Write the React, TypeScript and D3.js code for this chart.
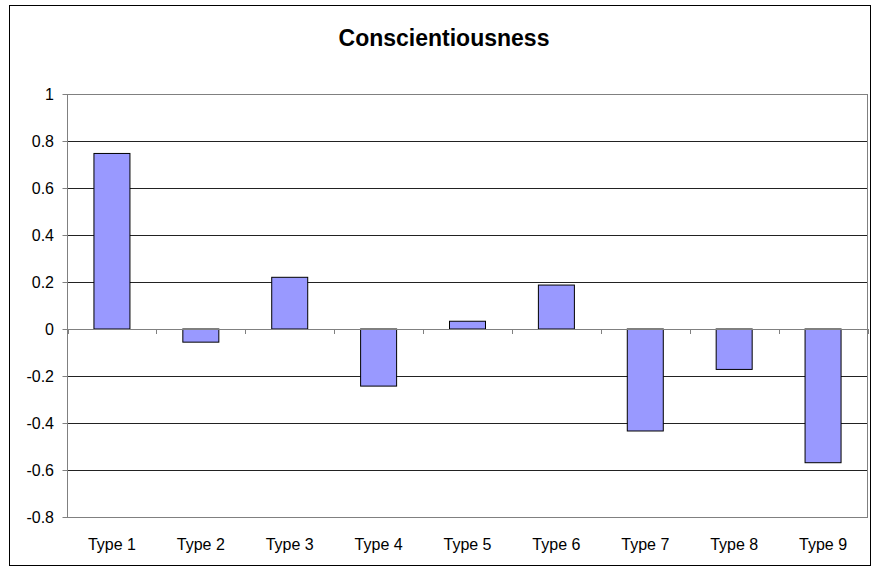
import React from "react";
import * as d3 from "d3";

const categories = ["Type 1", "Type 2", "Type 3", "Type 4", "Type 5", "Type 6", "Type 7", "Type 8", "Type 9"];
const values = [0.747, -0.056, 0.22, -0.243, 0.033, 0.187, -0.434, -0.172, -0.569];
const yTicks = [1, 0.8, 0.6, 0.4, 0.2, 0, -0.2, -0.4, -0.6, -0.8];
const title = "Conscientiousness";

const W = 872;
const H = 567;
const plot = { left: 67.5, right: 867.5, top: 94, bottom: 517 };

export default function App() {
  const x = d3.scaleBand<string>().domain(categories).range([plot.left, plot.right]).paddingInner(0.595).paddingOuter(0.2975);
  const y = d3.scaleLinear().domain([-0.8, 1]).range([plot.bottom, plot.top]);
  const y0 = y(0);
  const font = "Arial, 'Liberation Sans', Helvetica, sans-serif";
  const boundaries = d3.range(categories.length + 1).map((i) => plot.left + (i * (plot.right - plot.left)) / categories.length);

  return (
    <svg width={W} height={H} style={{ position: "absolute", left: 0, top: 0, background: "#fff" }}>
      <rect x={9.5} y={5.5} width={861} height={560} fill="#fff" stroke="#000" strokeWidth={1} />
      <text x={444} y={45.5} textAnchor="middle" fontFamily={font} fontWeight="bold" fontSize={23} fill="#000">
        {title}
      </text>

      {/* gridlines */}
      {yTicks.map((t) => (
        <line key={`g${t}`} x1={plot.left} x2={plot.right} y1={Math.round(y(t)) + 0.5} y2={Math.round(y(t)) + 0.5} stroke="#222" strokeWidth={1} />
      ))}

      {/* plot area frame */}
      <rect x={plot.left} y={Math.round(plot.top) + 0.5} width={plot.right - plot.left} height={Math.round(plot.bottom) - Math.round(plot.top)} fill="none" stroke="#808080" strokeWidth={1} />

      {/* bars */}
      {categories.map((c, i) => {
        const v = values[i];
        const top = Math.min(y(v), y0);
        const h = Math.abs(y(v) - y0);
        return (
          <rect key={c} x={x(c)!} y={top} width={x.bandwidth()} height={h} fill="#9999FF" stroke="#000" strokeWidth={1} />
        );
      })}

      {/* zero axis with category ticks */}
      <line x1={plot.left} x2={plot.right} y1={Math.round(y0) + 0.5} y2={Math.round(y0) + 0.5} stroke="#808080" strokeWidth={1} />
      {boundaries.map((bx, i) => (
        <line key={`xt${i}`} x1={Math.round(bx) + 0.5} x2={Math.round(bx) + 0.5} y1={y0} y2={y0 + 5} stroke="#808080" strokeWidth={1} />
      ))}

      {/* value axis */}
      <line x1={plot.left} x2={plot.left} y1={plot.top} y2={plot.bottom} stroke="#808080" strokeWidth={1} />
      {yTicks.map((t) => (
        <g key={`yt${t}`}>
          <line x1={plot.left - 5} x2={plot.left} y1={Math.round(y(t)) + 0.5} y2={Math.round(y(t)) + 0.5} stroke="#808080" strokeWidth={1} />
          <text x={54} y={y(t) + 5.5} textAnchor="end" fontFamily={font} fontSize={16} fill="#000">
            {String(t)}
          </text>
        </g>
      ))}

      {/* category labels */}
      {categories.map((c) => (
        <text key={`l${c}`} x={x(c)! + x.bandwidth() / 2} y={549.5} textAnchor="middle" fontFamily={font} fontSize={16} fill="#000">
          {c}
        </text>
      ))}
    </svg>
  );
}
